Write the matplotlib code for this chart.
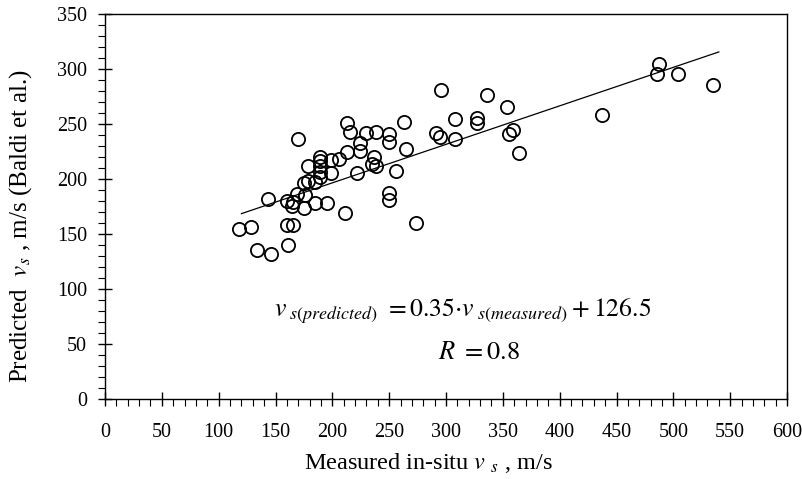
import matplotlib
matplotlib.use("Agg")
import matplotlib.pyplot as plt
from matplotlib.ticker import MultipleLocator

plt.rcParams['font.family'] = ['Liberation Serif', 'DejaVu Serif']
plt.rcParams['mathtext.fontset'] = 'stix'

# measured in-situ vs and predicted vs (Baldi et al.), m/s
measured = [118, 128.7, 134, 146, 143, 161, 160, 165.5, 160, 164.6, 165.5, 169,
            175.4, 170, 176, 175.4, 179, 185, 195, 178.6, 185, 189, 189.4, 189,
            189.4, 189, 198.8, 198.8, 205.5, 211, 212.8, 215.7, 212.8, 224, 224,
            221.5, 229.4, 238.4, 236.7, 234.7, 238.4, 250, 250, 263.3, 264.7,
            255.7, 250, 250, 274, 296, 291.6, 295, 308, 308, 327, 327, 336, 354,
            355, 359, 364.5, 437.5, 487, 486, 504, 535]
predicted = [154.5, 156, 135, 132, 181.5, 140, 158, 158, 180, 175.5, 179, 186,
             173.6, 236, 185, 196.6, 198.5, 178, 178, 211.8, 197.5, 202, 206.6,
             211.8, 216, 219.7, 217, 205.7, 218, 168.8, 250.6, 242.4, 224.5, 232.4,
             225.7, 205.7, 241.5, 242.4, 219.7, 214, 212, 241, 233.6, 252, 227,
             207, 187, 181, 159.7, 281, 241.5, 238, 254.8, 236.4, 255, 250.6,
             276.6, 265.7, 241, 244.5, 224, 258, 304.5, 295, 295, 285.7]

slope = 0.35
intercept = 126.5
fit_x = [120, 540]

fig = plt.figure(figsize=(8.03, 4.79), dpi=100)
ax = fig.add_axes([0.1308, 0.167, 0.8493, 0.8038])

ax.plot(measured, predicted, 'o', mfc='none', mec='black', mew=1.3, ms=9.5)
ax.plot(fit_x, [slope * x + intercept for x in fit_x], color='black', lw=0.9)

ax.set_xlim(0, 600)
ax.set_ylim(0, 350)
ax.xaxis.set_major_locator(MultipleLocator(50))
ax.xaxis.set_minor_locator(MultipleLocator(10))
ax.yaxis.set_major_locator(MultipleLocator(50))
ax.yaxis.set_minor_locator(MultipleLocator(10))
ax.tick_params(which='major', direction='inout', length=10, width=1, labelsize=14.5, pad=8)
ax.tick_params(which='minor', direction='out', length=5, width=0.8)
ax.tick_params(axis='x', which='major', pad=12)
for s in ax.spines.values():
    s.set_linewidth(1)

ax.set_xlabel(r'Measured in-situ $v$ $_s$ , m/s', fontsize=17.5)
ax.set_ylabel(r'Predicted  $v_s$ , m/s (Baldi et al.)', fontsize=18)
ax.xaxis.set_label_coords(0.475, -0.136)
ax.yaxis.set_label_coords(-0.104, 0.449)

ax.text(149, 80, r'$v_{\ s(predicted)}\ = 0.35{\cdot}v_{\ s(measured)} + 126.5$',
        fontsize=18.5, va='center', ha='left')
ax.text(293, 42, r'$R\ = 0.8$', fontsize=19, va='center', ha='left')

fig.savefig('out.png', dpi=100)
